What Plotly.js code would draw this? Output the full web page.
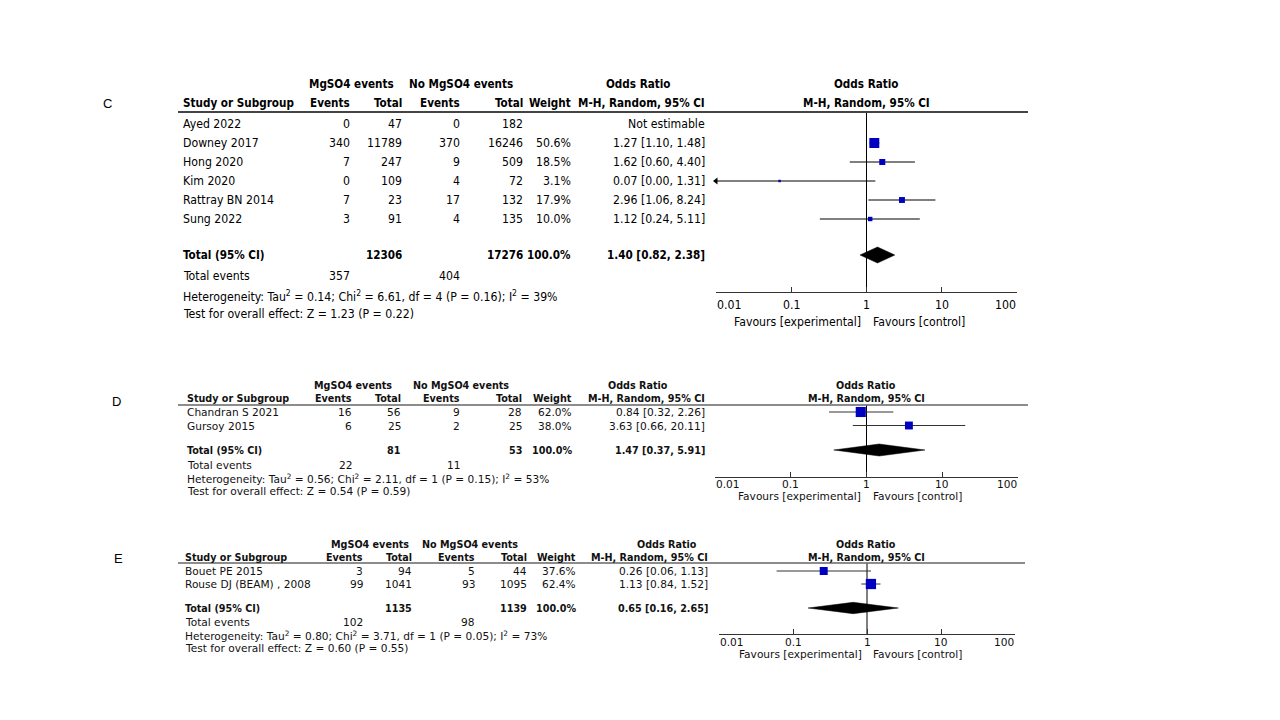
<!DOCTYPE html>
<html><head><meta charset="utf-8">
<script src="https://cdn.plot.ly/plotly-3.0.1.min.js"></script>
<style>html,body{margin:0;padding:0;background:#fff}#chart{width:1280px;height:720px}</style>
</head><body><div id="chart"></div>
<script>
// ================= DATA =================
// Panel C
const cStudies    = ["Ayed 2022","Downey 2017","Hong 2020","Kim 2020","Rattray BN 2014","Sung 2022"];
const cExpEvents  = [0,340,7,0,7,3];
const cExpTotal   = [47,11789,247,109,23,91];
const cCtlEvents  = [0,370,9,4,17,4];
const cCtlTotal   = [182,16246,509,72,132,135];
const cWeight     = [null,50.6,18.5,3.1,17.9,10.0];
const cOR         = [null,1.27,1.62,0.07,2.96,1.12];
const cLow        = [null,1.10,0.60,0.00,1.06,0.24];
const cHigh       = [null,1.48,4.40,1.31,8.24,5.11];
const cTotals     = [12306,17276];          // exp total, control total
const cTotalEv    = [357,404];
const cPooled     = [1.40,0.82,2.38];       // OR, low, high
const cHet        = [0.14,6.61,4,0.16,39];  // Tau2, Chi2, df, P, I2
const cOverall    = [1.23,0.22];            // Z, P

// Panel D
const dStudies    = ["Chandran S 2021","Gursoy 2015"];
const dExpEvents  = [16,6];
const dExpTotal   = [56,25];
const dCtlEvents  = [9,2];
const dCtlTotal   = [28,25];
const dWeight     = [62.0,38.0];
const dOR         = [0.84,3.63];
const dLow        = [0.32,0.66];
const dHigh       = [2.26,20.11];
const dTotals     = [81,53];
const dTotalEv    = [22,11];
const dPooled     = [1.47,0.37,5.91];
const dHet        = [0.56,2.11,1,0.15,53];
const dOverall    = [0.54,0.59];

// Panel E
const eStudies    = ["Bouet PE 2015","Rouse DJ (BEAM) , 2008"];
const eExpEvents  = [3,99];
const eExpTotal   = [94,1041];
const eCtlEvents  = [5,93];
const eCtlTotal   = [44,1095];
const eWeight     = [37.6,62.4];
const eOR         = [0.26,1.13];
const eLow        = [0.06,0.84];
const eHigh       = [1.13,1.52];
const eTotals     = [1135,1139];
const eTotalEv    = [102,98];
const ePooled     = [0.65,0.16,2.65];
const eHet        = [0.80,3.71,1,0.05,73];
const eOverall    = [0.60,0.55];

const tickVals    = [0.01,0.1,1,10,100];
const tickLabels  = ["0.01","0.1","1","10","100"];
const groupHdr    = ["MgSO4 events","No MgSO4 events"];
const colHdr      = ["Study or Subgroup","Events","Total","Events","Total","Weight","M-H, Random, 95% CI"];
const favLabels   = ["Favours [experimental]","Favours [control]"];

// ================= LAYOUT / STYLE =================
const W = 1280, H = 720;
const px = x => x / W;
const py = y => 1 - y / H;
const AXMIN = 0.01, AXMAX = 100;
const BLUE = '#0000c0';
const COND = 'DejaVu Sans Condensed, DejaVu Sans, sans-serif';
const NORM = 'DejaVu Sans, Verdana, sans-serif';
const FONT_L = 'Liberation Sans, Arial, sans-serif';

const panels = [
  { k:1, letter:'C', font:COND, fs:12.2, fontB:COND, fsB:11.6, lineW:2, lineColor:'#444', ink:'#000',
    data:{studies:cStudies, e1:cExpEvents, t1:cExpTotal, e2:cCtlEvents, t2:cCtlTotal, w:cWeight, or:cOR, lo:cLow, hi:cHigh, tot:cTotals, tev:cTotalEv, pooled:cPooled, het:cHet, ov:cOverall},
    letterPos:[107,104], hdr1:84, hdr2:103, lineY:112, lineX:[178,1028],
    row0:124, step:19, totalY:255, evY:276, hetY:296, testY:314,
    axisY:292, axisX:[716,1017], tickY:305, favY:322, favX:[862,872],
    cols:{name:182, e1:351, t1:403, e2:461, t2:524, w:572, ci:706}, grp:[351,460.5], orT:638, orP:866,
    sq:1.4, dh:8 },
  { k:2, letter:'D', font:NORM, fs:10.6, fontB:COND, fsB:10.7, lineW:1.5, lineColor:'#666', ink:'#111',
    data:{studies:dStudies, e1:dExpEvents, t1:dExpTotal, e2:dCtlEvents, t2:dCtlTotal, w:dWeight, or:dOR, lo:dLow, hi:dHigh, tot:dTotals, tev:dTotalEv, pooled:dPooled, het:dHet, ov:dOverall},
    letterPos:[116,401], hdr1:385, hdr2:398.5, lineY:405, lineX:[178,1028],
    row0:412, step:13.5, totalY:450, evY:465, hetY:478, testY:491,
    axisY:477, axisX:[715,1018], tickY:484, favY:496, favX:[862,872],
    cols:{name:186, e1:353, t1:402, e2:461, t2:523, w:573, ci:706}, grp:[353,461], orT:638, orP:866,
    sq:1.28, dh:6 },
  { k:3, letter:'E', font:NORM, fs:10.6, fontB:COND, fsB:10.7, lineW:1.5, lineColor:'#666', ink:'#111',
    data:{studies:eStudies, e1:eExpEvents, t1:eExpTotal, e2:eCtlEvents, t2:eCtlTotal, w:eWeight, or:eOR, lo:eLow, hi:eHigh, tot:eTotals, tev:eTotalEv, pooled:ePooled, het:eHet, ov:eOverall},
    letterPos:[118,558], hdr1:544, hdr2:557, lineY:563, lineX:[178,1025],
    row0:571, step:13, totalY:608, evY:622, hetY:635, testY:648,
    axisY:634, axisX:[719,1015], tickY:642, favY:654, favX:[863,872],
    cols:{name:184, e1:364, t1:413, e2:476, t2:528, w:577, ci:709}, grp:[370,470], orT:667, orP:866,
    sq:1.3, dh:5.7 }
];

const traces = [], annotations = [], shapes = [];
const layout = {
  width:W, height:H, margin:{l:0,r:0,t:0,b:0}, paper_bgcolor:'#fff', plot_bgcolor:'rgba(0,0,0,0)',
  showlegend:false, annotations, shapes
};

const f2 = v => v.toFixed(2);
const ciText = (o,l,h) => `${f2(o)} [${f2(l)}, ${f2(h)}]`;

function txt(p, text, x, y, anchor, bold) {
  annotations.push({
    text: bold ? `<b>${text}</b>` : text, x: px(x), y: py(y), xref:'paper', yref:'paper',
    xanchor: anchor, yanchor:'middle', showarrow:false, borderpad:0,
    font: bold ? {family:p.fontB, size:p.fsB, color:p.ink} : {family:p.font, size:p.fs, color:p.ink}
  });
}

panels.forEach(p => {
  const d = p.data, c = p.cols;
  const xa = p.k === 1 ? 'x' : 'x' + p.k;
  const ya = p.k === 1 ? 'y' : 'y' + p.k;
  const rowPx = i => p.row0 + i * p.step;

  // panel letter
  annotations.push({text:p.letter, x:px(p.letterPos[0]), y:py(p.letterPos[1]), xref:'paper', yref:'paper',
    xanchor:'center', yanchor:'middle', showarrow:false, font:{family:FONT_L, size:13, color:'#000'}});

  // headers
  txt(p, groupHdr[0], p.grp[0], p.hdr1, 'center', true);
  txt(p, groupHdr[1], p.grp[1], p.hdr1, 'center', true);
  txt(p, 'Odds Ratio', p.orT, p.hdr1, 'center', true);
  txt(p, 'Odds Ratio', p.orP, p.hdr1, 'center', true);
  txt(p, colHdr[0], c.name, p.hdr2, 'left', true);
  txt(p, colHdr[1], c.e1, p.hdr2, 'right', true);
  txt(p, colHdr[2], c.t1, p.hdr2, 'right', true);
  txt(p, colHdr[3], c.e2, p.hdr2, 'right', true);
  txt(p, colHdr[4], c.t2, p.hdr2, 'right', true);
  txt(p, colHdr[5], c.w, p.hdr2, 'right', true);
  txt(p, colHdr[6], c.ci, p.hdr2, 'right', true);
  txt(p, colHdr[6], p.orP, p.hdr2, 'center', true);

  shapes.push({type:'line', xref:'paper', yref:'paper', x0:px(p.lineX[0]), x1:px(p.lineX[1]),
    y0:py(p.lineY), y1:py(p.lineY), line:{color:p.lineColor, width:p.lineW}});

  // study rows
  d.studies.forEach((s, i) => {
    const y = rowPx(i);
    txt(p, s, c.name, y, 'left');
    txt(p, String(d.e1[i]), c.e1, y, 'right');
    txt(p, String(d.t1[i]), c.t1, y, 'right');
    txt(p, String(d.e2[i]), c.e2, y, 'right');
    txt(p, String(d.t2[i]), c.t2, y, 'right');
    if (d.w[i] != null) txt(p, d.w[i].toFixed(1) + '%', c.w, y, 'right');
    txt(p, d.or[i] == null ? 'Not estimable' : ciText(d.or[i], d.lo[i], d.hi[i]), c.ci, y, 'right');
  });

  // total rows
  txt(p, 'Total (95% CI)', c.name, p.totalY, 'left', true);
  txt(p, String(d.tot[0]), c.t1, p.totalY, 'right', true);
  txt(p, String(d.tot[1]), c.t2, p.totalY, 'right', true);
  txt(p, '100.0%', c.w, p.totalY, 'right', true);
  txt(p, ciText(d.pooled[0], d.pooled[1], d.pooled[2]), c.ci, p.totalY, 'right', true);
  txt(p, 'Total events', c.name, p.evY, 'left');
  txt(p, String(d.tev[0]), c.e1, p.evY, 'right');
  txt(p, String(d.tev[1]), c.e2, p.evY, 'right');
  const h = d.het;
  txt(p, `Heterogeneity: Tau<sup>2</sup> = ${f2(h[0])}; Chi<sup>2</sup> = ${f2(h[1])}, df = ${h[2]} (P = ${f2(h[3])}); I<sup>2</sup> = ${h[4]}%`, c.name, p.hetY, 'left');
  txt(p, `Test for overall effect: Z = ${f2(d.ov[0])} (P = ${f2(d.ov[1])})`, c.name, p.testY, 'left');

  // forest axes
  const yTop = (p.lineY - p.row0) / p.step;
  const yBot = (p.axisY - p.row0) / p.step;
  const yTot = (p.totalY - p.row0) / p.step;
  layout['xaxis' + (p.k === 1 ? '' : p.k)] = {
    type:'log', range:[Math.log10(AXMIN), Math.log10(AXMAX)], domain:[px(p.axisX[0]), px(p.axisX[1])],
    anchor:ya, showline:true, linecolor:'#333', linewidth:1, ticks:'inside', ticklen:5, tickcolor:'#333',
    tickvals:tickVals, ticktext:tickLabels, showticklabels:false, showgrid:false, zeroline:false, fixedrange:true
  };
  layout['yaxis' + (p.k === 1 ? '' : p.k)] = {
    domain:[py(p.axisY), py(p.lineY)], range:[yBot, yTop], anchor:xa, visible:false, fixedrange:true
  };

  // tick labels (end labels aligned inward)
  tickVals.forEach((v, j) => {
    annotations.push({text:tickLabels[j], x:Math.log10(v), xref:xa, y:py(p.tickY), yref:'paper',
      xanchor: j === 0 ? 'left' : (j === tickVals.length - 1 ? 'right' : 'center'),
      yanchor:'middle', showarrow:false, borderpad:0, font:{family:p.font, size:p.fs, color:p.ink}});
  });
  txt(p, favLabels[0], p.favX[0], p.favY, 'right');
  txt(p, favLabels[1], p.favX[1], p.favY, 'left');

  // null line
  traces.push({type:'scatter', mode:'lines', x:[1,1], y:[yBot, yTop], xaxis:xa, yaxis:ya,
    line:{color:'#000', width:1}, hoverinfo:'skip', cliponaxis:false});

  // CI lines, arrows, squares
  const lx = [], ly = [], arrX = [], arrY = [], mx = [], my = [], ms = [];
  d.or.forEach((o, i) => {
    if (o == null) return;
    lx.push(Math.max(d.lo[i], AXMIN), Math.min(d.hi[i], AXMAX), null);
    ly.push(i, i, null);
    if (d.lo[i] < AXMIN) { arrX.push(AXMIN); arrY.push(i); }
    mx.push(o); my.push(i); ms.push(p.sq * Math.sqrt(d.w[i]));
  });
  traces.push({type:'scatter', mode:'lines', x:lx, y:ly, xaxis:xa, yaxis:ya,
    line:{color: p.k === 1 ? '#000' : '#333', width:1}, hoverinfo:'skip', cliponaxis:false});
  if (arrX.length) traces.push({type:'scatter', mode:'markers', x:arrX, y:arrY, xaxis:xa, yaxis:ya,
    marker:{symbol:'triangle-left', size:6, color:'#000'}, hoverinfo:'skip', cliponaxis:false});
  traces.push({type:'scatter', mode:'markers', x:mx, y:my, xaxis:xa, yaxis:ya,
    marker:{symbol:'square', size:ms, color:BLUE, opacity:1, line:{width:0}}, hoverinfo:'skip', cliponaxis:false});

  // pooled diamond
  const hh = p.dh / p.step, pl = d.pooled;
  traces.push({type:'scatter', mode:'lines', fill:'toself', fillcolor:'#000',
    x:[pl[1], pl[0], pl[2], pl[0], pl[1]], y:[yTot, yTot - hh, yTot, yTot + hh, yTot],
    xaxis:xa, yaxis:ya, line:{color:'#000', width:0.5}, hoverinfo:'skip'});
});

Plotly.newPlot('chart', traces, layout, {staticPlot:true, displayModeBar:false});
</script>
</body></html>
